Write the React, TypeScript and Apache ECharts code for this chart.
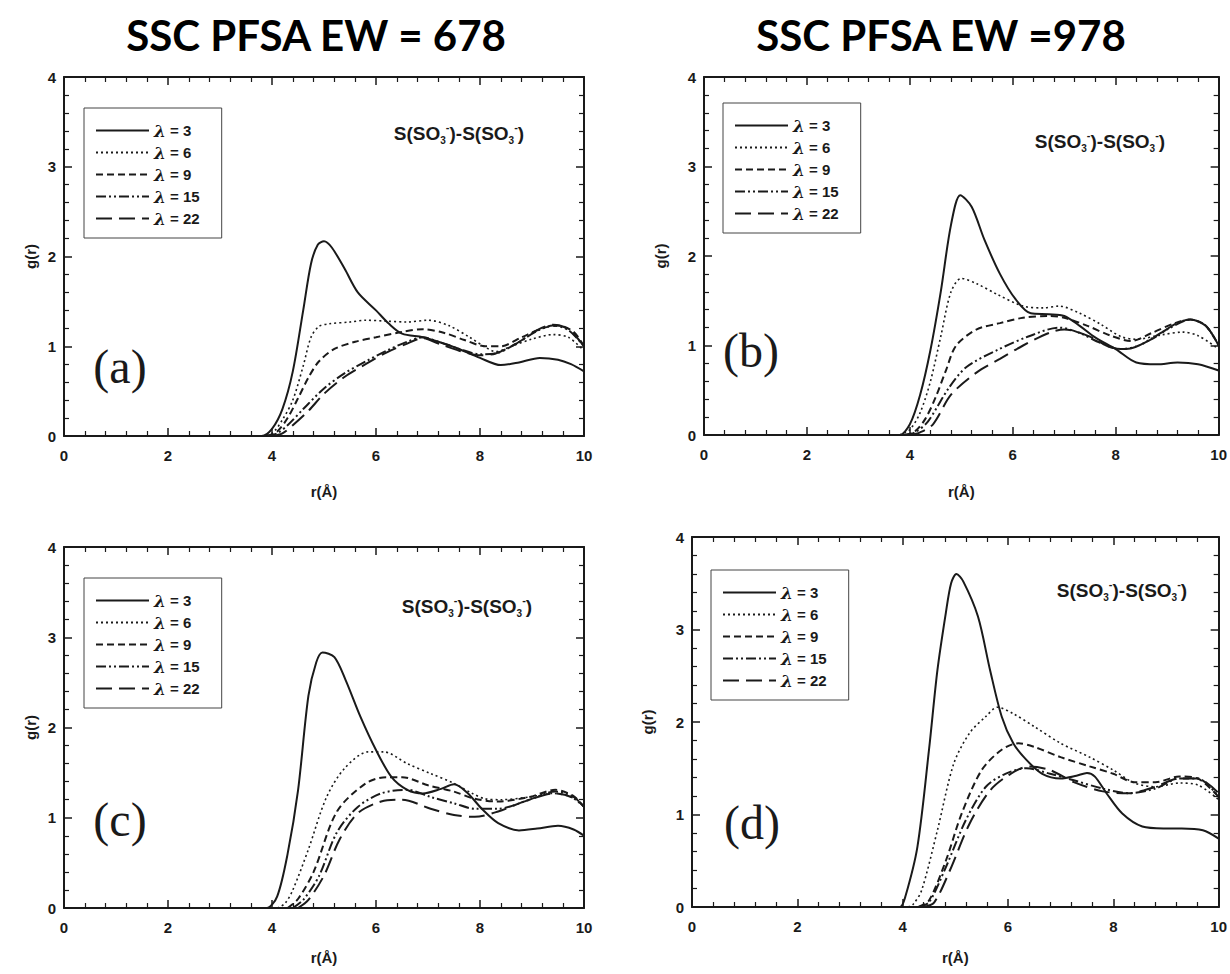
import React, { useEffect, useRef } from 'react';
import * as echarts from 'echarts';

// ---------- data ----------
const NAMES = ['λ = 3', 'λ = 6', 'λ = 9', 'λ = 15', 'λ = 22'];
const TITLES = ['SSC PFSA EW = 678', 'SSC PFSA EW =978'];
const PANEL_LABELS = ['(a)', '(b)', '(c)', '(d)'];
const PAIR_LABEL = 'S(SO3-)-S(SO3-)';
const X_NAME = 'r(Å)';
const Y_NAME = 'g(r)';

// panel (a) EW = 678
const A3 = [[3.5,0],[3.8,0],[4.0,0.08],[4.2,0.3],[4.4,0.72],[4.6,1.4],[4.75,1.92],[4.88,2.13],[5.0,2.17],[5.15,2.1],[5.4,1.86],[5.65,1.6],[6.0,1.4],[6.25,1.25],[6.5,1.14],[6.9,1.1],[7.2,1.05],[7.55,0.98],[8.0,0.87],[8.4,0.79],[8.75,0.82],[9.15,0.87],[9.5,0.85],[9.75,0.8],[10,0.72]];
const A6 = [[3.8,0],[4.0,0.03],[4.2,0.18],[4.4,0.4],[4.6,0.78],[4.75,1.1],[4.9,1.22],[5.1,1.25],[5.5,1.27],[5.8,1.29],[6.2,1.28],[6.6,1.27],[7.0,1.29],[7.4,1.23],[7.8,1.1],[8.1,0.99],[8.3,0.94],[8.6,1.0],[9.0,1.08],[9.4,1.13],[9.7,1.1],[10,0.95]];
const A9 = [[3.9,0],[4.1,0.05],[4.3,0.2],[4.5,0.42],[4.7,0.65],[4.9,0.83],[5.2,0.97],[5.6,1.05],[6.0,1.1],[6.5,1.16],[6.9,1.19],[7.3,1.15],[7.7,1.07],[8.1,1.0],[8.4,1.0],[8.8,1.1],[9.2,1.2],[9.5,1.23],[9.8,1.16],[10,1.0]];
const A15 = [[3.9,0],[4.1,0.03],[4.3,0.12],[4.6,0.3],[5.0,0.53],[5.4,0.7],[5.8,0.83],[6.2,0.95],[6.6,1.05],[6.9,1.1],[7.2,1.05],[7.6,0.97],[8.0,0.91],[8.3,0.92],[8.7,1.03],[9.1,1.17],[9.4,1.23],[9.7,1.18],[10,1.0]];
const A22 = [[4.0,0],[4.2,0.03],[4.4,0.12],[4.7,0.28],[5.0,0.47],[5.4,0.66],[5.8,0.8],[6.2,0.93],[6.6,1.03],[6.9,1.09],[7.2,1.03],[7.6,0.95],[8.0,0.9],[8.3,0.92],[8.7,1.03],[9.1,1.18],[9.4,1.24],[9.7,1.19],[10,1.0]];

// panel (b) EW = 978
const B3 = [[3.6,0],[3.8,0],[4.0,0.12],[4.2,0.45],[4.4,0.95],[4.6,1.6],[4.8,2.35],[4.98,2.68],[5.2,2.55],[5.45,2.18],[5.75,1.8],[6.05,1.52],[6.35,1.36],[6.7,1.35],[7.0,1.33],[7.3,1.22],[7.6,1.09],[8.0,0.96],[8.4,0.81],[8.8,0.79],[9.2,0.81],[9.6,0.79],[10,0.72]];
const B6 = [[3.8,0],[4.0,0.06],[4.2,0.25],[4.4,0.6],[4.6,1.1],[4.8,1.6],[5.0,1.75],[5.3,1.69],[5.7,1.57],[6.2,1.44],[6.6,1.42],[6.9,1.44],[7.3,1.36],[7.7,1.24],[8.1,1.1],[8.4,1.07],[8.9,1.12],[9.3,1.15],[9.6,1.11],[10,0.96]];
const B9 = [[3.9,0],[4.1,0.04],[4.3,0.18],[4.5,0.42],[4.7,0.72],[4.9,1.0],[5.3,1.18],[5.75,1.25],[6.2,1.31],[6.7,1.33],[7.0,1.31],[7.45,1.22],[7.9,1.11],[8.3,1.05],[8.7,1.14],[9.15,1.25],[9.45,1.29],[9.75,1.22],[10,1.0]];
const B15 = [[3.9,0],[4.1,0.03],[4.35,0.15],[4.75,0.52],[5.1,0.76],[5.7,0.95],[6.3,1.1],[6.9,1.2],[7.3,1.14],[7.7,1.03],[8.1,0.96],[8.45,1.0],[9.0,1.18],[9.45,1.29],[9.75,1.22],[10,1.0]];
const B22 = [[4.0,0],[4.2,0.03],[4.45,0.12],[4.8,0.45],[5.3,0.7],[5.75,0.85],[6.2,1.0],[6.7,1.14],[7.0,1.18],[7.45,1.11],[7.9,0.98],[8.2,0.96],[8.7,1.07],[9.15,1.24],[9.45,1.29],[9.75,1.22],[10,1.0]];

// panel (c) EW = 678
const C3 = [[3.7,0],[3.9,0],[4.1,0.13],[4.3,0.6],[4.5,1.3],[4.7,2.35],[4.85,2.72],[4.97,2.83],[5.2,2.78],[5.42,2.52],[5.7,2.12],[6.0,1.75],[6.3,1.45],[6.6,1.31],[6.9,1.27],[7.25,1.32],[7.5,1.37],[7.75,1.28],[8.05,1.09],[8.35,0.94],[8.75,0.86],[9.1,0.88],[9.5,0.91],[9.8,0.87],[10,0.8]];
const C6 = [[4.1,0],[4.25,0.05],[4.4,0.2],[4.7,0.65],[5.05,1.23],[5.4,1.55],[5.85,1.73],[6.15,1.73],[6.6,1.6],[7.05,1.49],[7.5,1.38],[7.85,1.27],[8.1,1.21],[8.4,1.2],[8.95,1.23],[9.4,1.27],[9.75,1.23],[10,1.12]];
const C9 = [[4.3,0],[4.5,0.1],[4.8,0.4],[5.25,1.07],[5.8,1.38],[6.2,1.45],[6.5,1.45],[7.0,1.36],[7.5,1.29],[7.9,1.21],[8.35,1.18],[8.95,1.23],[9.45,1.31],[9.8,1.24],[10,1.12]];
const C15 = [[4.4,0],[4.6,0.09],[4.9,0.35],[5.25,0.84],[5.65,1.12],[6.1,1.27],[6.6,1.31],[7.05,1.23],[7.5,1.16],[7.9,1.1],[8.35,1.1],[8.95,1.2],[9.45,1.29],[9.8,1.23],[10,1.12]];
const C22 = [[4.5,0],[4.7,0.09],[5.0,0.36],[5.3,0.76],[5.65,1.05],[6.1,1.18],[6.5,1.2],[7.05,1.1],[7.5,1.03],[7.9,1.01],[8.35,1.07],[8.95,1.2],[9.45,1.27],[9.8,1.22],[10,1.12]];

// panel (d) EW = 978
const D3 = [[3.8,0],[3.95,0],[4.05,0.11],[4.28,0.65],[4.5,1.7],[4.66,2.56],[4.82,3.18],[4.92,3.5],[5.02,3.6],[5.15,3.52],[5.43,3.14],[5.66,2.56],[5.88,2.06],[6.1,1.77],[6.35,1.59],[6.65,1.44],[7.0,1.39],[7.3,1.42],[7.5,1.45],[7.65,1.41],[7.87,1.23],[8.17,1.01],[8.55,0.87],[8.95,0.85],[9.3,0.85],[9.7,0.83],[10,0.74]];
const D6 = [[4.1,0],[4.2,0.03],[4.36,0.18],[4.66,0.83],[4.97,1.55],[5.27,1.88],[5.58,2.06],[5.8,2.16],[6.1,2.09],[6.5,1.95],[7.0,1.77],[7.55,1.62],[8.0,1.48],[8.4,1.34],[8.8,1.3],[9.25,1.34],[9.6,1.32],[10,1.16]];
const D9 = [[4.3,0],[4.5,0.07],[4.82,0.5],[5.12,1.01],[5.5,1.48],[5.88,1.7],[6.2,1.77],[6.5,1.73],[7.0,1.62],[7.55,1.52],[8.0,1.44],[8.4,1.35],[8.8,1.35],[9.25,1.41],[9.6,1.39],[10,1.19]];
const D15 = [[4.3,0],[4.5,0.05],[4.82,0.43],[5.2,0.94],[5.58,1.3],[5.95,1.44],[6.35,1.5],[6.8,1.44],[7.25,1.37],[7.8,1.28],[8.3,1.23],[8.8,1.28],[9.25,1.39],[9.6,1.39],[10,1.19]];
const D22 = [[4.4,0],[4.6,0.05],[4.9,0.4],[5.27,0.9],[5.66,1.26],[6.05,1.44],[6.4,1.52],[6.8,1.48],[7.25,1.35],[7.8,1.25],[8.3,1.23],[8.8,1.3],[9.25,1.39],[9.6,1.39],[10,1.23]];

const PANELS = [
  [A3, A6, A9, A15, A22],
  [B3, B6, B9, B15, B22],
  [C3, C6, C9, C15, C22],
  [D3, D6, D9, D15, D22],
];

// ---------- layout / style ----------
const GRIDS = [
  { left: 64, top: 77, width: 520, height: 359 },
  { left: 704, top: 77, width: 517, height: 358 },
  { left: 64, top: 547, width: 520, height: 361 },
  { left: 692, top: 537, width: 529, height: 370 },
];
const LEGEND_POS = [
  { left: 84, top: 108 },
  { left: 723, top: 103 },
  { left: 84, top: 578 },
  { left: 711, top: 570 },
];
const PAIR_POS = [[459, 133], [1100, 141], [467, 606], [1122, 590]];
const LABEL_POS = [[120, 366], [751, 350], [120, 819], [752, 822]];
const TITLE_POS = [[316, 35], [941, 35]];
const Y_NAME_GAP = [26, 36, 26, 37];
const X_NAME_GAP = [48, 49, 42, 43];

const INK = '#1a1a1a';
const LINE_STYLES: any[] = [
  { type: 'solid', width: 2 },
  { type: [2, 3], width: 1.6 },
  { type: [7, 4], width: 2 },
  { type: [10, 3, 2, 3, 2, 3], width: 2 },
  { type: [16, 7], width: 2 },
];
const SANS = 'Liberation Sans, Arial, sans-serif';

function buildOption() {
  const xAxis: any[] = [];
  const yAxis: any[] = [];
  const series: any[] = [];
  const legend: any[] = [];
  const graphic: any[] = [];

  const tick = { inside: true, length: 8, lineStyle: { color: INK, width: 1.5 } };
  const minor = { show: true, splitNumber: 5, length: 5, lineStyle: { color: INK, width: 1.2 } };
  const line = { show: true, onZero: false, lineStyle: { color: INK, width: 2 } };
  const lab = { color: INK, fontFamily: SANS, fontWeight: 'bold', fontSize: 15 };

  GRIDS.forEach((g, p) => {
    xAxis.push({
      gridIndex: p, type: 'value', min: 0, max: 10, interval: 2, position: 'bottom',
      axisLine: line, axisTick: tick, minorTick: minor, splitLine: { show: false },
      axisLabel: { ...lab, margin: 12 },
      name: X_NAME, nameLocation: 'middle', nameGap: X_NAME_GAP[p],
      nameTextStyle: { ...lab },
    });
    xAxis.push({
      gridIndex: p, type: 'value', min: 0, max: 10, interval: 2, position: 'top',
      axisLine: line, axisTick: tick, minorTick: minor, splitLine: { show: false },
      axisLabel: { show: false },
    });
    yAxis.push({
      gridIndex: p, type: 'value', min: 0, max: 4, interval: 1, position: 'left',
      axisLine: line, axisTick: tick, minorTick: minor, splitLine: { show: false },
      axisLabel: { ...lab, margin: 8 },
      name: Y_NAME, nameLocation: 'middle', nameGap: Y_NAME_GAP[p], nameRotate: 90,
      nameTextStyle: { ...lab },
    });
    yAxis.push({
      gridIndex: p, type: 'value', min: 0, max: 4, interval: 1, position: 'right',
      axisLine: line, axisTick: tick, minorTick: minor, splitLine: { show: false },
      axisLabel: { show: false },
    });

    PANELS[p].forEach((data, i) => {
      series.push({
        type: 'line', name: NAMES[i], xAxisIndex: p * 2, yAxisIndex: p * 2,
        data, symbol: 'none', showSymbol: false, smooth: 0.3,
        lineStyle: { color: INK, ...LINE_STYLES[i] }, itemStyle: { color: INK }, z: 3,
      });
    });

    legend.push({
      ...LEGEND_POS[p], orient: 'vertical', selectedMode: false,
      data: NAMES, itemWidth: 53, itemHeight: 15, itemGap: 5,
      padding: [14, 22, 11, 11], borderColor: '#444', borderWidth: 1,
      itemStyle: { opacity: 0 },
      formatter: (name: string) => `{l|λ}{t|${name.replace('λ', '')}}`,
      textStyle: {
        rich: {
          l: { fontFamily: 'DejaVu Serif', fontStyle: 'italic', fontWeight: 'bold', fontSize: 17, lineHeight: 15, color: INK },
          t: { fontFamily: SANS, fontWeight: 'bold', fontSize: 15, lineHeight: 15, color: INK },
        },
      },
    });

    const parts = PAIR_LABEL.split(/(3-)/);
    const rich = parts.map((s) => (s === '3-' ? '{s|3}{p|-}' : `{m|${s}}`)).join('');
    graphic.push({
      type: 'text', x: PAIR_POS[p][0], y: PAIR_POS[p][1],
      style: {
        text: rich, align: 'center', verticalAlign: 'middle', fill: INK,
        rich: {
          m: { fontFamily: SANS, fontWeight: 'bold', fontSize: 19, lineHeight: 24, fill: INK },
          s: { fontFamily: SANS, fontWeight: 'bold', fontSize: 10, lineHeight: 10, verticalAlign: 'bottom', fill: INK },
          p: { fontFamily: SANS, fontWeight: 'bold', fontSize: 11, lineHeight: 11, verticalAlign: 'top', fill: INK },
        },
      },
    });
    graphic.push({
      type: 'text', x: LABEL_POS[p][0], y: LABEL_POS[p][1],
      style: {
        text: PANEL_LABELS[p], align: 'center', verticalAlign: 'middle', fill: INK,
        font: '48px "Liberation Serif", "Times New Roman", serif',
      },
    });
  });

  TITLES.forEach((t, i) => {
    graphic.push({
      type: 'text', x: TITLE_POS[i][0], y: TITLE_POS[i][1],
      style: {
        text: t, align: 'center', verticalAlign: 'middle', fill: '#000',
        font: 'bold 42px Lato, "Open Sans", sans-serif',
      },
    });
  });

  return {
    animation: false,
    backgroundColor: '#ffffff',
    grid: GRIDS.map((g) => ({ ...g, show: false, containLabel: false })),
    xAxis, yAxis, series, legend, graphic,
  };
}

export default function App() {
  const ref = useRef<HTMLDivElement>(null);
  useEffect(() => {
    if (!ref.current) return;
    const chart = echarts.init(ref.current, undefined, { renderer: 'svg' });
    chart.setOption(buildOption() as any);
    return () => chart.dispose();
  }, []);
  return (
    <div
      ref={ref}
      style={{ position: 'absolute', left: 0, top: 0, width: 1230, height: 974, background: '#fff' }}
    />
  );
}
